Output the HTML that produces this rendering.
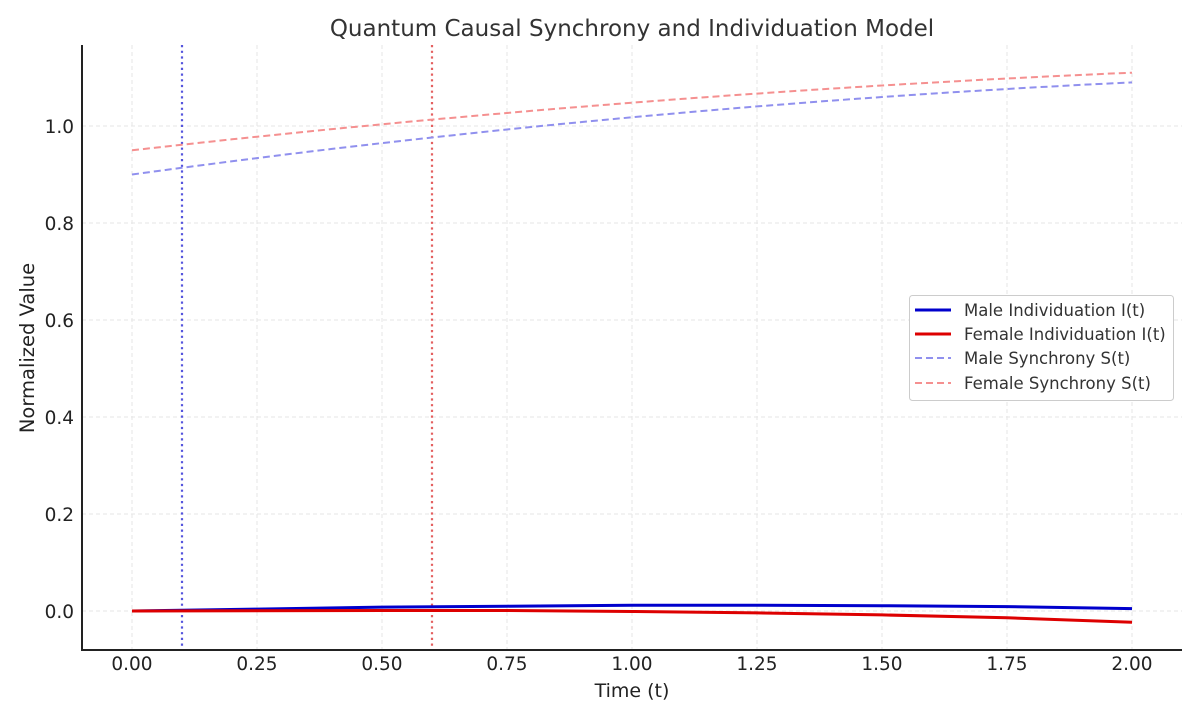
<!DOCTYPE html>
<html><head><meta charset="utf-8"><style>body{margin:0;background:#fff}</style></head><body>
<svg width="1200" height="720" xmlns="http://www.w3.org/2000/svg" font-family="DejaVu Sans, Liberation Sans, sans-serif">
<rect width="1200" height="720" fill="#fff"/>
<g stroke="#e6e6e6" stroke-width="1" stroke-dasharray="4,3">
<line x1="132" y1="45" x2="132" y2="650"/><line x1="257" y1="45" x2="257" y2="650"/><line x1="382" y1="45" x2="382" y2="650"/><line x1="507" y1="45" x2="507" y2="650"/><line x1="632" y1="45" x2="632" y2="650"/><line x1="757" y1="45" x2="757" y2="650"/><line x1="882" y1="45" x2="882" y2="650"/><line x1="1007" y1="45" x2="1007" y2="650"/><line x1="1132" y1="45" x2="1132" y2="650"/>
<line x1="82" y1="611" x2="1182" y2="611"/><line x1="82" y1="514" x2="1182" y2="514"/><line x1="82" y1="417" x2="1182" y2="417"/><line x1="82" y1="320" x2="1182" y2="320"/><line x1="82" y1="223" x2="1182" y2="223"/><line x1="82" y1="126" x2="1182" y2="126"/>
</g>
<line x1="182" y1="45" x2="182" y2="650" stroke="#5555dd" stroke-width="2.2" stroke-dasharray="2.2,3.5"/>
<line x1="432" y1="45" x2="432" y2="650" stroke="#e46060" stroke-width="2.2" stroke-dasharray="2.2,3.5"/>
<path id="ms" fill="none" stroke="#9090ee" stroke-width="2" stroke-dasharray="7,4" d=""/>
<path id="fs" fill="none" stroke="#f59090" stroke-width="2" stroke-dasharray="7,4" d=""/>
<polyline fill="none" stroke="#0000cc" stroke-width="3" points="132,611 257,609.1 382,607.1 507,606.2 632,605.2 757,605.2 882,605.7 1007,606.6 1132,608.6"/>
<polyline fill="none" stroke="#dd0000" stroke-width="3" points="132,611 382,610.5 507,610.5 632,611.5 757,612.9 882,614.9 1007,617.8 1132,622.2"/>
<line x1="82" y1="45" x2="82" y2="650" stroke="#222" stroke-width="2"/>
<line x1="81" y1="650" x2="1182" y2="650" stroke="#222" stroke-width="2"/>
<g font-size="18.5" fill="#222" text-anchor="middle">
<text x="132" y="670">0.00</text><text x="257" y="670">0.25</text><text x="382" y="670">0.50</text><text x="507" y="670">0.75</text><text x="632" y="670">1.00</text><text x="757" y="670">1.25</text><text x="882" y="670">1.50</text><text x="1007" y="670">1.75</text><text x="1132" y="670">2.00</text>
</g>
<g font-size="18.5" fill="#222" text-anchor="end">
<text x="74" y="618">0.0</text><text x="74" y="521">0.2</text><text x="74" y="424">0.4</text><text x="74" y="327">0.6</text><text x="74" y="230">0.8</text><text x="74" y="133">1.0</text>
</g>
<text x="632" y="697" font-size="19" fill="#222" text-anchor="middle">Time (t)</text>
<text transform="translate(34,348) rotate(-90)" font-size="19.5" fill="#222" text-anchor="middle">Normalized Value</text>
<text x="632" y="36" font-size="23" fill="#333" text-anchor="middle">Quantum Causal Synchrony and Individuation Model</text>
<rect x="909.5" y="295.5" width="264" height="105" rx="3" fill="#fff" stroke="#ccc"/>
<line x1="915" y1="310" x2="951" y2="310" stroke="#0000cc" stroke-width="3"/>
<line x1="915" y1="334" x2="951" y2="334" stroke="#dd0000" stroke-width="3"/>
<line x1="915" y1="358" x2="951" y2="358" stroke="#9090ee" stroke-width="2" stroke-dasharray="7,4"/>
<line x1="915" y1="383" x2="951" y2="383" stroke="#f59090" stroke-width="2" stroke-dasharray="7,4"/>
<g font-size="16.5" fill="#333">
<text x="964" y="316">Male Individuation I(t)</text><text x="964" y="340">Female Individuation I(t)</text><text x="964" y="364">Male Synchrony S(t)</text><text x="964" y="389">Female Synchrony S(t)</text>
</g>
<script>
function mk(a,b,c){var p=[];for(var i=0;i<=40;i++){var t=i*0.05;var v=a+b*t-c*t*t;p.push((132+t*500).toFixed(1)+","+(611-v*485).toFixed(1));}return "M"+p.join(" L");}
document.getElementById("ms").setAttribute("d",mk(0.9,0.141,0.023));
document.getElementById("fs").setAttribute("d",mk(0.95,0.116,0.018));
</script>
</svg>
</body></html>
